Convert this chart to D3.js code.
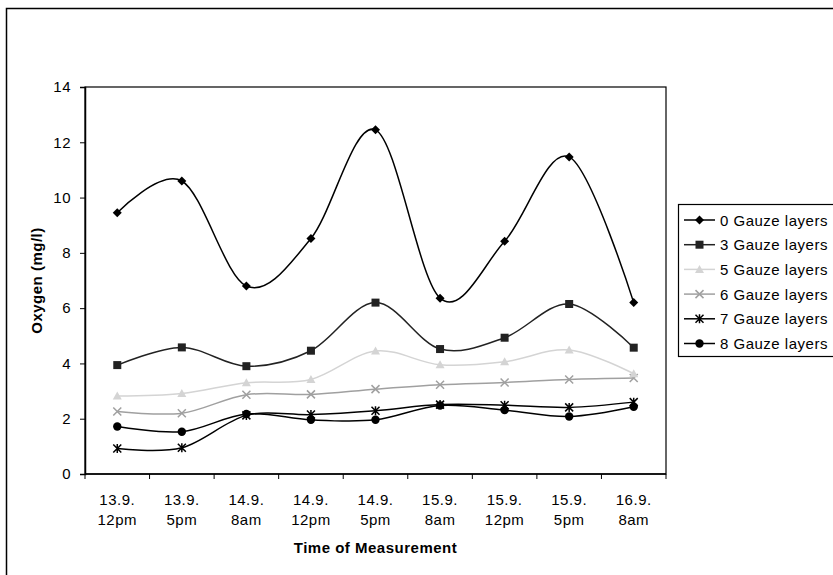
<!DOCTYPE html>
<html><head><meta charset="UTF-8">
<script src="https://d3js.org/d3.v7.min.js"></script>
<style>
  body { margin: 0; background: #fff; }
  svg text { font-family: "Liberation Sans", Arial, sans-serif; letter-spacing: 0.5px; }
</style>
</head>
<body>
<div id="chart"></div>
<script>

// categories on the x axis (two lines each)
var times = ["13.9.|12pm", "13.9.|5pm", "14.9.|8am", "14.9.|12pm", "14.9.|5pm",
             "15.9.|8am", "15.9.|12pm", "15.9.|5pm", "16.9.|8am"];

var gauze0 = [9.45, 10.6, 6.8, 8.52, 12.45, 6.36, 8.42, 11.47, 6.2];
var gauze3 = [3.94, 4.58, 3.9, 4.46, 6.2, 4.52, 4.93, 6.15, 4.57];
var gauze5 = [2.82, 2.91, 3.3, 3.42, 4.45, 3.95, 4.06, 4.49, 3.63];
var gauze6 = [2.26, 2.2, 2.87, 2.88, 3.07, 3.23, 3.31, 3.42, 3.47];
var gauze7 = [0.92, 0.95, 2.12, 2.15, 2.29, 2.51, 2.49, 2.41, 2.6];
var gauze8 = [1.72, 1.53, 2.17, 1.96, 1.96, 2.48, 2.31, 2.08, 2.43];

var yTicks = [0, 2, 4, 6, 8, 10, 12, 14];

var series = [
  {name: "0 Gauze layers", values: gauze0, color: "#000", marker: "diamond"},
  {name: "3 Gauze layers", values: gauze3, color: "#222", marker: "square"},
  {name: "5 Gauze layers", values: gauze5, color: "#d4d4d4", marker: "triangle"},
  {name: "6 Gauze layers", values: gauze6, color: "#a0a0a0", marker: "cross"},
  {name: "7 Gauze layers", values: gauze7, color: "#000", marker: "star"},
  {name: "8 Gauze layers", values: gauze8, color: "#000", marker: "circle"}
];

var W = 833, H = 575;
var pLeft = 85, pRight = 666, pTop = 87, pBottom = 474;
var fontSize = 15;

var svg = d3.select("#chart").append("svg")
    .attr("width", W)
    .attr("height", H);

// outer chart frame (runs off the right and bottom of the picture)
svg.append("rect")
    .attr("x", 6.5).attr("y", 8.5)
    .attr("width", W + 20).attr("height", H + 20)
    .attr("fill", "#fff").attr("stroke", "#000").attr("stroke-width", 1.5);

var x = d3.scaleBand().domain(times).range([pLeft, pRight]);
var y = d3.scaleLinear().domain([0, 14]).range([pBottom, pTop]);

// plot frame
svg.append("rect")
    .attr("x", pLeft).attr("y", pTop)
    .attr("width", pRight - pLeft).attr("height", pBottom - pTop)
    .attr("fill", "none").attr("stroke", "#000").attr("stroke-width", 1.2);

// y axis
var yAxis = svg.append("g")
    .attr("transform", "translate(" + pLeft + ",0)")
    .call(d3.axisLeft(y).tickValues(yTicks).tickSize(5).tickPadding(9));
yAxis.select(".domain").attr("stroke", "#000").attr("stroke-width", 1.5);
yAxis.selectAll(".tick line").attr("stroke", "#000");
yAxis.selectAll("text").attr("font-size", fontSize).attr("fill", "#000")
    .style("font-family", "'Liberation Sans', Arial, sans-serif");

// x axis: ticks on category boundaries
var xAxis = svg.append("g")
    .attr("transform", "translate(0," + pBottom + ")");
xAxis.append("line")
    .attr("x1", pLeft).attr("x2", pRight)
    .attr("stroke", "#000").attr("stroke-width", 1.5);
xAxis.selectAll(".xt")
    .data(times.concat(["end"]))
    .enter().append("line")
    .attr("x1", function(d, i) { return pLeft + i * x.step(); })
    .attr("x2", function(d, i) { return pLeft + i * x.step(); })
    .attr("y1", 0).attr("y2", 5)
    .attr("stroke", "#000");
var xl = xAxis.selectAll(".xl")
    .data(times)
    .enter().append("text")
    .attr("text-anchor", "middle")
    .attr("font-size", fontSize)
    .attr("fill", "#000");
xl.append("tspan")
    .attr("x", function(d) { return x(d) + x.bandwidth() / 2; })
    .attr("y", 31)
    .text(function(d) { return d.split("|")[0]; });
xl.append("tspan")
    .attr("x", function(d) { return x(d) + x.bandwidth() / 2; })
    .attr("y", 51)
    .text(function(d) { return d.split("|")[1]; });

// axis titles
svg.append("text")
    .attr("x", (pLeft + pRight) / 2).attr("y", 553)
    .attr("text-anchor", "middle")
    .attr("font-size", fontSize).attr("font-weight", "bold")
    .text("Time of Measurement");
svg.append("text")
    .attr("transform", "translate(42," + ((pTop + pBottom) / 2) + ") rotate(-90)")
    .attr("text-anchor", "middle")
    .attr("font-size", fontSize).attr("font-weight", "bold")
    .text("Oxygen (mg/l)");

function drawMarker(g, type, color) {
  if (type == "diamond") {
    g.append("path").attr("d", "M0,-4.5L4.5,0L0,4.5L-4.5,0Z").attr("fill", color);
  } else if (type == "square") {
    g.append("rect").attr("x", -4).attr("y", -4).attr("width", 8).attr("height", 8).attr("fill", color);
  } else if (type == "triangle") {
    g.append("path").attr("d", "M0,-4.5L4.5,3.5L-4.5,3.5Z").attr("fill", color);
  } else if (type == "cross") {
    g.append("path").attr("d", "M-4,-4L4,4M-4,4L4,-4").attr("stroke", color).attr("stroke-width", 1.5);
  } else if (type == "star") {
    g.append("path").attr("d", "M-4,-4L4,4M-4,4L4,-4M0,-4.5L0,4.5").attr("stroke", color).attr("stroke-width", 1.5);
  } else if (type == "circle") {
    g.append("circle").attr("r", 4.2).attr("fill", color);
  }
}

var line = d3.line()
    .x(function(d, i) { return x(times[i]) + x.bandwidth() / 2; })
    .y(function(d) { return y(d); })
    .curve(d3.curveCardinal.tension(0));

var plot = svg.append("g");
series.slice().reverse().forEach(function(s) {
  plot.append("path")
      .datum(s.values)
      .attr("d", line)
      .attr("fill", "none")
      .attr("stroke", s.color)
      .attr("stroke-width", 1.5);
  s.values.forEach(function(v, i) {
    var g = plot.append("g")
        .attr("transform", "translate(" + (x(times[i]) + x.bandwidth() / 2) + "," + y(v) + ")");
    drawMarker(g, s.marker, s.color);
  });
});

// legend
var lg = svg.append("g").attr("transform", "translate(678,204)");
lg.append("rect")
    .attr("x", 0.5).attr("y", 0.5)
    .attr("width", 200).attr("height", 152)
    .attr("fill", "#fff").attr("stroke", "#000").attr("stroke-width", 1.2);
series.forEach(function(s, i) {
  var row = lg.append("g").attr("transform", "translate(0," + (16 + i * 24.7) + ")");
  row.append("line").attr("x1", 6).attr("x2", 37)
      .attr("stroke", s.color).attr("stroke-width", 1.5);
  drawMarker(row.append("g").attr("transform", "translate(21.5,0)"), s.marker, s.color);
  row.append("text")
      .attr("x", 42).attr("y", 5.5)
      .attr("font-size", fontSize)
      .attr("fill", "#000")
      .text(s.name);
});

</script>
</body></html>
